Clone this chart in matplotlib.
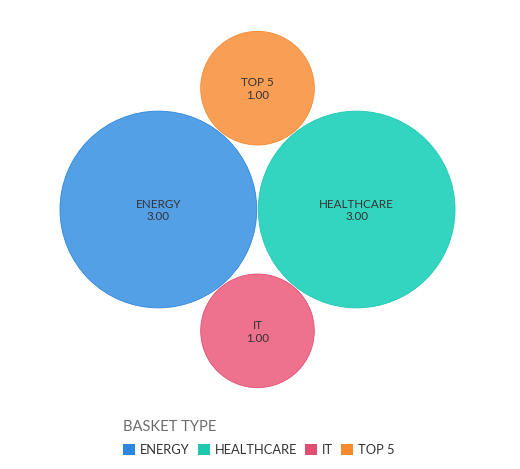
import numpy as np
import matplotlib
matplotlib.use("Agg")
import matplotlib.pyplot as plt
from matplotlib.patches import Circle, Patch

categories = ["ENERGY", "HEALTHCARE", "IT", "TOP 5"]
values = [3.0, 3.0, 1.0, 1.0]
fill_colors = ["#54a0e6", "#33d5c1", "#ee728d", "#f89f55"]
legend_colors = ["#2e86de", "#1ec8b0", "#e44d72", "#f78a2f"]
legend_title = "BASKET TYPE"

plt.rcParams['font.family'] = ['Lato', 'DejaVu Sans']

W, H = 520, 469
fig = plt.figure(figsize=(W / 100, H / 100), dpi=100)
ax = fig.add_axes([0, 0, 1, 1])
ax.set_xlim(0, W)
ax.set_ylim(H, 0)
ax.set_aspect('equal')
ax.axis('off')

# circle packing: area proportional to value
k = 56.8
pad = 1.5
cx0, cy0 = 257.5, 209.5
radii = [k * np.sqrt(v) for v in values]
rb = radii[0]
rs = radii[2]
dx = rb + pad / 2
dy = np.sqrt((rb + rs + pad) ** 2 - dx ** 2)
centers = {
    "ENERGY": (cx0 - dx, cy0),
    "HEALTHCARE": (cx0 + dx, cy0),
    "IT": (cx0, cy0 + dy),
    "TOP 5": (cx0, cy0 - dy),
}

for cat, val, r, fc, ec in zip(categories, values, radii, fill_colors, legend_colors):
    x, y = centers[cat]
    ax.add_patch(Circle((x, y), r, facecolor=fc, edgecolor=ec, linewidth=0.6))
    ax.text(x, y - 5.5, cat, ha='center', va='center', fontsize=8.4, color='#333333')
    ax.text(x, y + 7.5, f"{val:.2f}", ha='center', va='center', fontsize=8.4, color='#333333')

fs = 9.3
handles = [Patch(facecolor=c, edgecolor='none') for c in legend_colors]
leg = fig.legend(handles, categories, ncol=4, loc='upper left',
                 bbox_to_anchor=(119 / W, 1 - 416 / H), frameon=False,
                 title=legend_title, alignment='left',
                 handlelength=0.93, handleheight=0.93, handletextpad=0.4,
                 columnspacing=0.6, fontsize=fs, title_fontsize=10.6,
                 borderaxespad=0, borderpad=0.3)
leg._legend_box.sep = 7.5
leg.get_title().set_color('#6b6b6b')
for t in leg.get_texts():
    t.set_color('#333333')

fig.savefig("out.png", dpi=100)
